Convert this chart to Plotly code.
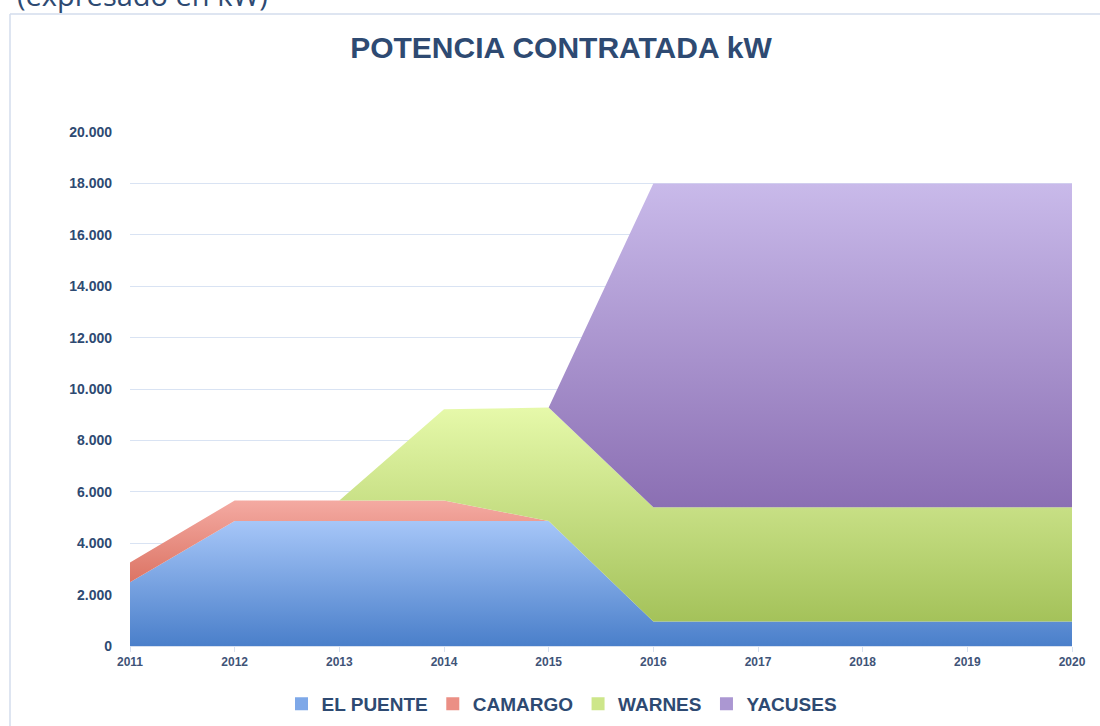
import plotly.graph_objects as go

years = [2011, 2012, 2013, 2014, 2015, 2016, 2017, 2018, 2019, 2020]
el_puente = [2480, 4860, 4860, 4860, 4860, 950, 950, 950, 950, 950]
camargo = [770, 800, 800, 800, 0, 0, 0, 0, 0, 0]
warnes = [0, 0, 0, 3550, 4420, 4450, 4450, 4450, 4450, 4450]
yacuses = [0, 0, 0, 0, 0, 12600, 12600, 12600, 12600, 12600]

series = [
    ("EL PUENTE", el_puente, "#4a7fca", "#a6c6f8", "#7ea8e8"),
    ("CAMARGO", camargo, "#dc7464", "#f4aaa2", "#eb8f85"),
    ("WARNES", warnes, "#a4c25a", "#e6f9aa", "#cde68a"),
    ("YACUSES", yacuses, "#8b6fb3", "#c9baea", "#ab97d2"),
]

TXT = "#2e4a72"
W, H = 1100, 726
L, R, T, B = 130, 28, 132, 80
PW, PH = W - L - R, H - T - B

fig = go.Figure()

base = [0] * len(years)
for name, vals, c_bot, c_top, c_mid in series:
    top = [b + v for b, v in zip(base, vals)]
    idx = [i for i, v in enumerate(vals) if v > 0]
    lo = min(base[i] for i in idx)
    hi = max(top[i] for i in idx)
    fig.add_trace(go.Scatter(
        x=years, y=vals, name=name, stackgroup="one", mode="lines",
        line=dict(width=0), showlegend=False,
        fillgradient=dict(type="vertical",
                          colorscale=[[0, c_bot], [1, c_top]],
                          start=lo, stop=hi),
        hoverinfo="x+y+name",
    ))
    base = top

for name, vals, c_bot, c_top, c_mid in series:
    fig.add_trace(go.Scatter(
        x=[None], y=[None], name=name, mode="markers",
        marker=dict(symbol="square", size=13, color=c_mid,
                    line=dict(width=0)),
        showlegend=True,
    ))

fx = lambda px: (px - L) / PW          # figure px -> paper x
fy = lambda py: (H - B - py) / PH      # figure px -> paper y

fig.update_layout(
    width=W, height=H,
    margin=dict(l=L, r=R, t=T, b=B),
    paper_bgcolor="white", plot_bgcolor="white",
    separators=",.",
    title=dict(text="POTENCIA CONTRATADA kW",
               font=dict(family="Liberation Sans", size=30, color=TXT,
                         weight="bold"),
               x=561 / W, xanchor="center", y=1 - 47 / H, yanchor="middle"),
    xaxis=dict(range=[2011, 2020], tickmode="array", tickvals=years,
               ticktext=[str(y) for y in years],
               showgrid=False, zeroline=False,
               showline=True, linecolor="#d6e0f0", linewidth=1,
               ticks="outside", ticklen=5, tickcolor="#d6e0f0",
               tickfont=dict(family="Liberation Sans", size=12,
                             color="#3f5478", weight="bold"),
               ticklabelstandoff=0),
    yaxis=dict(range=[0, 20000], dtick=2000, tickformat=",d",
               showgrid=True, gridcolor="#d9e3f3", gridwidth=1,
               zeroline=False, showline=False,
               tickfont=dict(family="Liberation Sans", size=14, color=TXT,
                             weight="bold"),
               ticklabelstandoff=17),
    legend=dict(orientation="h", xref="paper", x=fx(562), xanchor="center",
                yref="container", y=(H - 704) / H, yanchor="middle",
                font=dict(family="Liberation Sans", size=19, color=TXT,
                          weight="bold"),
                itemclick=False, traceorder="normal"),
    annotations=[dict(
        text="(expresado en kW)", xref="paper", yref="paper",
        x=fx(15), xanchor="left",
        y=fy(-5.5), yanchor="middle", showarrow=False,
        font=dict(family="Open Sans", size=29, color="#2e4a72"),
    )],
    shapes=[
        dict(type="line", xref="paper", yref="paper",
             x0=fx(10), x1=fx(W + 20), y0=fy(14), y1=fy(14),
             line=dict(color="#d3ddec", width=1.5), layer="below"),
        dict(type="line", xref="paper", yref="paper",
             x0=fx(10), x1=fx(10), y0=fy(14), y1=fy(H + 20),
             line=dict(color="#d3ddec", width=1.5), layer="below"),
    ],
)

fig.write_html("out.html", config={"displayModeBar": False},
               post_script="document.body.style.margin='0';")
